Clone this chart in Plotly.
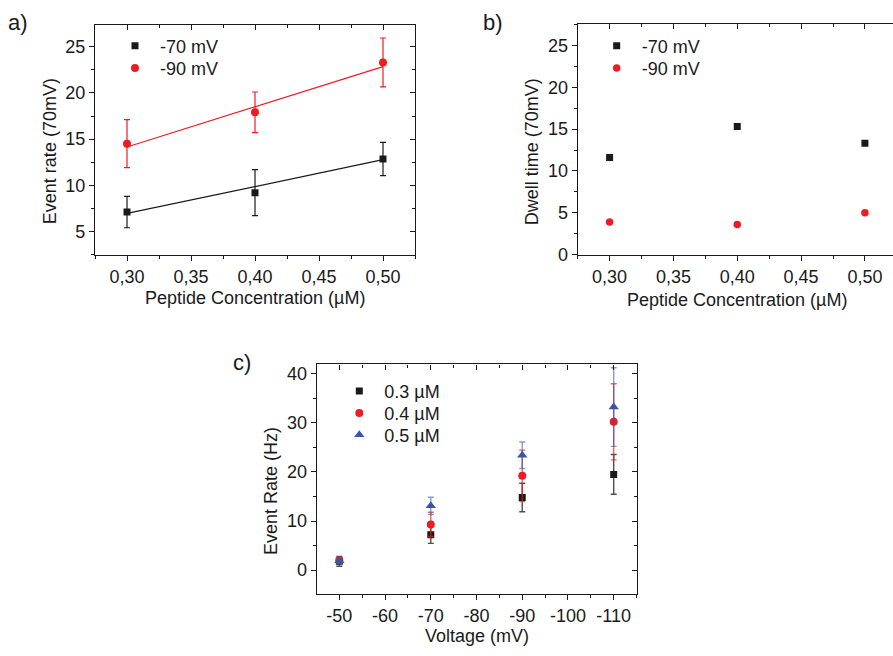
import plotly.graph_objects as go

W, H = 893, 656
FONT = "Liberation Sans, Arial, sans-serif"
INK = "#1a1a1a"
RED = "#ec1c24"
BLUE = "#3a55a8"
FS = 18

# ---- panel a: event rate vs peptide concentration ----
conc = [0.30, 0.40, 0.50]
rate_70 = [7.1, 9.2, 12.85]
rate_70_err = [1.7, 2.5, 1.8]
rate_90 = [14.5, 17.9, 23.3]
rate_90_err = [2.6, 2.2, 2.65]
fit_x = [0.30, 0.50]
fit_70 = [6.95, 12.77]
fit_90 = [14.15, 22.85]

# ---- panel b: dwell time vs peptide concentration ----
dwell_70 = [11.6, 15.3, 13.3]
dwell_90 = [3.9, 3.6, 5.0]

conc_ticks = [0.30, 0.35, 0.40, 0.45, 0.50]
conc_ticktext = ["0,30", "0,35", "0,40", "0,45", "0,50"]

# ---- panel c: event rate vs voltage ----
voltage = [-50, -70, -90, -110]
c03 = [1.8, 7.2, 14.8, 19.5]
c03_err = [1.0, 1.75, 2.9, 4.05]
c04 = [2.0, 9.3, 19.2, 30.2]
c04_err = [0.6, 2.5, 5.25, 7.75]
c05 = [1.9, 13.1, 23.4, 33.2]
c05_err = [0.5, 1.75, 2.7, 8.0]
volt_ticks = [-50, -60, -70, -80, -90, -100, -110]
volt_ticktext = ["-50", "-60", "-70", "-80", "-90", "-100", "-110"]


def px_x(p):
    return p / W


def px_y(p):
    return 1 - p / H


def axis(rng, domain, tickvals, ticktext, minor_dtick, minor_tick0, inside=False, **kw):
    d = dict(
        range=rng, domain=domain, showline=True, linecolor=INK, linewidth=1.3,
        ticks="inside" if inside else "outside", ticklen=5, tickwidth=1.2, tickcolor=INK,
        showgrid=False, zeroline=False,
        tickmode="array", tickvals=tickvals, ticktext=ticktext,
        tickfont=dict(size=FS, color=INK, family=FONT),
        showticklabels=not inside,
        minor=dict(ticks="inside" if inside else "outside", ticklen=3, tickwidth=1.2,
                   tickcolor=INK, dtick=minor_dtick, tick0=minor_tick0, showgrid=False),
        fixedrange=True,
    )
    d.update(kw)
    return d


fig = go.Figure()

# panel a
fig.add_trace(go.Scatter(x=fit_x, y=fit_70, mode="lines", line=dict(color=INK, width=1.2),
                         showlegend=False, xaxis="x", yaxis="y"))
fig.add_trace(go.Scatter(x=fit_x, y=fit_90, mode="lines", line=dict(color=RED, width=1.2),
                         showlegend=False, xaxis="x", yaxis="y"))
fig.add_trace(go.Scatter(x=conc, y=rate_70, mode="markers", name="-70 mV",
                         marker=dict(symbol="square", size=7, color=INK),
                         error_y=dict(type="data", array=rate_70_err, color=INK, thickness=1.2, width=3),
                         xaxis="x", yaxis="y", legend="legend"))
fig.add_trace(go.Scatter(x=conc, y=rate_90, mode="markers", name="-90 mV",
                         marker=dict(symbol="circle", size=8, color=RED),
                         error_y=dict(type="data", array=rate_90_err, color=RED, thickness=1.2, width=3),
                         xaxis="x", yaxis="y", legend="legend2"))
fig.add_trace(go.Scatter(x=[], y=[], xaxis="x4", yaxis="y4", showlegend=False))

# panel b
fig.add_trace(go.Scatter(x=conc, y=dwell_70, mode="markers", name="-70 mV",
                         marker=dict(symbol="square", size=7, color=INK),
                         xaxis="x2", yaxis="y2", legend="legend3"))
fig.add_trace(go.Scatter(x=conc, y=dwell_90, mode="markers", name="-90 mV",
                         marker=dict(symbol="circle", size=7.5, color=RED),
                         xaxis="x2", yaxis="y2", legend="legend4"))
fig.add_trace(go.Scatter(x=[], y=[], xaxis="x5", yaxis="y2", showlegend=False))

# panel c
fig.add_trace(go.Scatter(x=voltage, y=c03, mode="markers", name="0.3 µM",
                         marker=dict(symbol="square", size=7, color=INK),
                         error_y=dict(type="data", array=c03_err, color="rgba(20,20,20,0.75)", thickness=1.4, width=3),
                         xaxis="x3", yaxis="y3", legend="legend5"))
fig.add_trace(go.Scatter(x=voltage, y=c04, mode="markers", name="0.4 µM",
                         marker=dict(symbol="circle", size=8, color=RED),
                         error_y=dict(type="data", array=c04_err, color="rgba(236,28,36,0.7)", thickness=1.4, width=3),
                         xaxis="x3", yaxis="y3", legend="legend6"))
fig.add_trace(go.Scatter(x=voltage, y=c05, mode="markers", name="0.5 µM",
                         marker=dict(symbol="triangle-up", size=9, color=BLUE),
                         error_y=dict(type="data", array=c05_err, color="rgba(58,85,168,0.6)", thickness=1.4, width=3),
                         xaxis="x3", yaxis="y3", legend="legend7"))
fig.add_trace(go.Scatter(x=[], y=[], xaxis="x6", yaxis="y6", showlegend=False))

dom_ax = [px_x(95), px_x(415)]
dom_ay = [px_y(259), px_y(25)]
dom_bx = [px_x(577.7), 1.0]
dom_by = [px_y(258.7), px_y(24.3)]
dom_cx = [px_x(316.7), px_x(636.7)]
dom_cy = [px_y(603.3), px_y(370)]

ra_x = [0.275, 0.525]
ra_y = [2.44, 27.4]
rb_x = [0.275, 0.522]
rb_y = [0, 27.55]
rc_x = [-45.05, -115.03]
rc_y = [-4.87, 41.9]

ticks_a_y = [5, 10, 15, 20, 25]
ticks_b_y = [0, 5, 10, 15, 20, 25]
ticks_c_y = [0, 10, 20, 30, 40]


def leg(sym_x, sym_y):
    return dict(font=dict(size=FS, color=INK, family=FONT), bgcolor="rgba(0,0,0,0)",
                x=px_x(sym_x - 25), y=px_y(sym_y), xanchor="left", yanchor="middle",
                itemwidth=40, tracegroupgap=0, itemclick=False, itemdoubleclick=False)


fig.update_layout(
    width=W, height=H, autosize=False,
    margin=dict(l=0, r=0, t=0, b=0),
    paper_bgcolor="white", plot_bgcolor="white",
    font=dict(family=FONT, size=FS, color=INK),
    xaxis=axis(ra_x, dom_ax, conc_ticks, conc_ticktext, 0.025, 0.275, anchor="y"),
    yaxis=axis(ra_y, dom_ay, ticks_a_y, [str(v) for v in ticks_a_y], 2.5, 0, anchor="x"),
    xaxis4=axis(ra_x, dom_ax, conc_ticks, conc_ticktext, 0.025, 0.275, inside=True,
                overlaying="x", side="top", anchor="y"),
    yaxis4=axis(ra_y, dom_ay, ticks_a_y, [str(v) for v in ticks_a_y], 2.5, 0, inside=True,
                overlaying="y", side="right", anchor="x"),
    xaxis2=axis(rb_x, dom_bx, conc_ticks, conc_ticktext, 0.025, 0.275, anchor="y2"),
    yaxis2=axis(rb_y, dom_by, ticks_b_y, [str(v) for v in ticks_b_y], 2.5, 0, anchor="x2"),
    xaxis5=axis(rb_x, dom_bx, conc_ticks, conc_ticktext, 0.025, 0.275, inside=True,
                overlaying="x2", side="top", anchor="y2"),
    xaxis3=axis(rc_x, dom_cx, volt_ticks, volt_ticktext, 5, 0, anchor="y3"),
    yaxis3=axis(rc_y, dom_cy, ticks_c_y, [str(v) for v in ticks_c_y], 5, 0, anchor="x3"),
    xaxis6=axis(rc_x, dom_cx, volt_ticks, volt_ticktext, 5, 0, inside=True,
                overlaying="x3", side="top", anchor="y3"),
    yaxis6=axis(rc_y, dom_cy, ticks_c_y, [str(v) for v in ticks_c_y], 5, 0, inside=True,
                overlaying="y3", side="right", anchor="x3"),
    legend=leg(135, 46.7),
    legend2=leg(135, 69.3),
    legend3=leg(616.7, 46.7),
    legend4=leg(616.7, 69.3),
    legend5=leg(359.3, 397.3),
    legend6=leg(359.3, 419.7),
    legend7=leg(359.3, 441.7),
)

annots = [
    ("a)", 18, 23, 0, 22), ("b)", 493, 23, 0, 22), ("c)", 241.7, 368, 0, 22),
    ("Event rate (70mV)", 50, 153.5, -90, FS),
    ("Dwell time (70mV)", 531.7, 154, -90, FS),
    ("Event Rate (Hz)", 271.7, 499, -90, FS),
    ("Peptide Concentration (µM)", 255, 303, 0, FS),
    ("Peptide Concentration (µM)", 737, 305, 0, FS),
    ("Voltage (mV)", 476.5, 646, 0, FS),
]
for text, cx, cy, ang, size in annots:
    fig.add_annotation(text=text, x=px_x(cx), y=px_y(cy), xref="paper", yref="paper",
                       xanchor="center", yanchor="middle", showarrow=False, textangle=ang,
                       font=dict(size=size, color=INK, family=FONT))

# remove the browser's default 8px body margin so the figure fills the window exactly
fig.write_html("out.html",
               post_script="document.body.style.margin='0';document.body.style.overflow='hidden';",
               config={"displayModeBar": False})
